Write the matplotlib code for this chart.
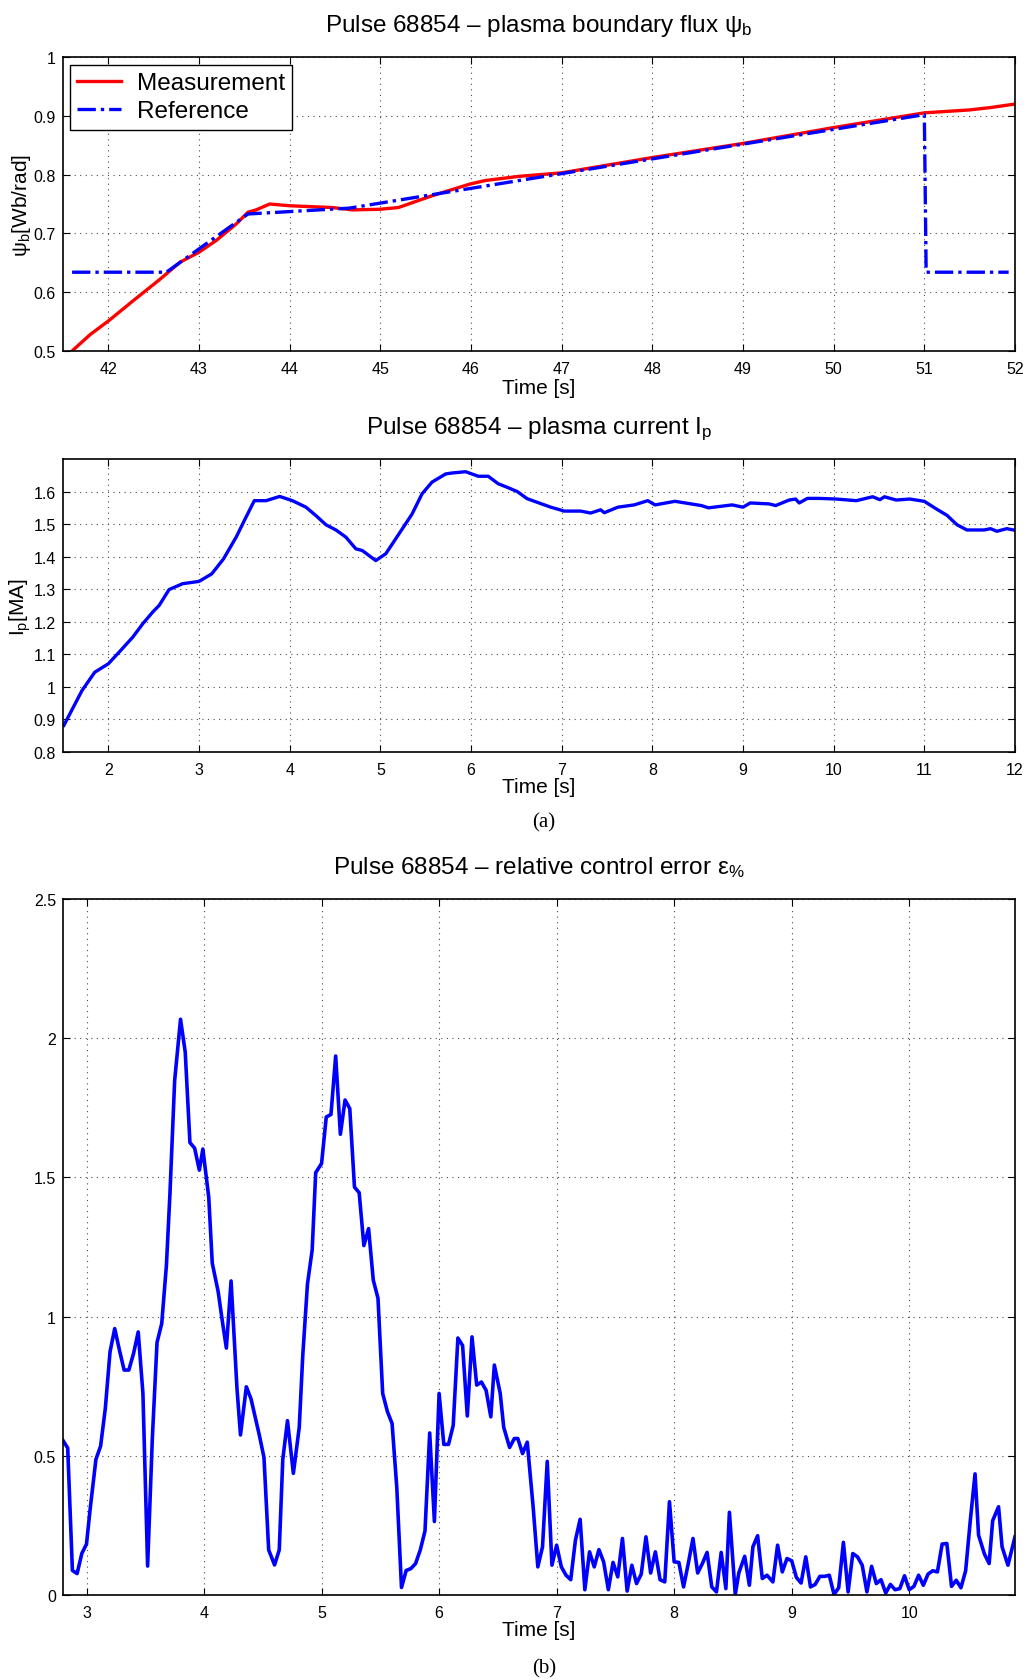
import matplotlib
matplotlib.use('Agg')
import matplotlib.pyplot as plt
from matplotlib.ticker import FuncFormatter

plt.rcParams['font.family'] = ['Liberation Sans', 'DejaVu Sans']
plt.rcParams['mathtext.fontset'] = 'custom'
plt.rcParams['mathtext.rm'] = 'Liberation Sans'
plt.rcParams['mathtext.it'] = 'Liberation Sans'

# --- boundary flux, pulse 68854 ---
flux_time = [41.6, 41.8, 42.0, 42.27, 42.57, 42.79, 43.0, 43.19, 43.41, 43.54, 43.63, 43.78,
             44.0, 44.47, 44.69, 44.99, 45.2, 45.57, 45.99, 46.16, 46.53, 47.0, 48.0, 49.0,
             50.0, 51.0, 51.5, 51.73, 52.0]
flux_meas = [0.5, 0.528, 0.551, 0.585, 0.622, 0.651, 0.668, 0.688, 0.716, 0.736, 0.740, 0.750,
             0.747, 0.744, 0.740, 0.741, 0.744, 0.764, 0.784, 0.790, 0.797, 0.803, 0.829, 0.853,
             0.880, 0.905, 0.910, 0.914, 0.920]
ref_time = [41.6, 42.64, 43.54, 44.66, 51.0, 51.02, 51.93]
ref_flux = [0.634, 0.634, 0.733, 0.743, 0.902, 0.634, 0.634]

# --- plasma current ---
ip_time = [1.51, 1.71, 1.85, 2.0, 2.13, 2.27, 2.38, 2.49, 2.56, 2.67, 2.82, 3.0, 3.14, 3.27,
           3.41, 3.5, 3.61, 3.74, 3.89, 4.03, 4.18, 4.29, 4.40, 4.51, 4.62, 4.73, 4.80, 4.95,
           5.06, 5.17, 5.35, 5.46, 5.57, 5.72, 5.79, 5.94, 6.08, 6.19, 6.30,
           6.40, 6.51, 6.62, 6.73, 6.88, 7.03, 7.21, 7.32, 7.43, 7.47, 7.62, 7.80, 7.95, 8.03,
           8.25, 8.54, 8.62, 8.88, 9.0, 9.08, 9.29, 9.36, 9.51, 9.58, 9.62, 9.71, 9.84, 10.03,
           10.25, 10.43, 10.51, 10.56, 10.69, 10.84, 11.0, 11.13, 11.25, 11.36, 11.47, 11.66,
           11.73, 11.8, 11.91, 12.0]
ip_ma = [0.882, 0.989, 1.045, 1.071, 1.110, 1.153, 1.194, 1.230, 1.250, 1.299, 1.317, 1.324,
         1.347, 1.393, 1.460, 1.511, 1.572, 1.572, 1.585, 1.572, 1.552, 1.526, 1.498, 1.482,
         1.460, 1.424, 1.419, 1.388, 1.409, 1.455, 1.531, 1.593, 1.629, 1.654, 1.657, 1.661,
         1.647, 1.647, 1.624,
         1.613, 1.600, 1.578, 1.567, 1.552, 1.540, 1.540, 1.534, 1.544, 1.535, 1.552, 1.559,
         1.572, 1.559, 1.570, 1.557, 1.550, 1.559, 1.552, 1.565, 1.562, 1.557, 1.574, 1.577,
         1.565, 1.579, 1.579, 1.577, 1.572, 1.584, 1.575, 1.584, 1.574, 1.577, 1.570, 1.547,
         1.527, 1.498, 1.482, 1.482, 1.486, 1.478, 1.486, 1.481]

# --- relative control error ---
err_time = [2.80, 2.84, 2.88, 2.92, 2.96, 3.00, 3.03, 3.08, 3.12, 3.16, 3.20, 3.24, 3.28, 3.32,
            3.36, 3.40, 3.44, 3.48, 3.52, 3.56, 3.60, 3.64, 3.68, 3.71, 3.75, 3.80, 3.84, 3.88,
            3.92, 3.96, 3.99, 4.04, 4.07, 4.12, 4.16, 4.19, 4.23, 4.28, 4.31, 4.36, 4.40, 4.44,
            4.47, 4.51, 4.55, 4.60, 4.64, 4.67, 4.71, 4.76,
            4.81, 4.84, 4.88, 4.92, 4.95, 5.00, 5.04, 5.08, 5.12, 5.16, 5.20, 5.24, 5.28, 5.32,
            5.36, 5.40, 5.44, 5.48, 5.52, 5.56, 5.60, 5.64, 5.68, 5.72, 5.76, 5.80, 5.84, 5.88,
            5.92, 5.96, 6.00, 6.04, 6.08, 6.12, 6.16, 6.20, 6.24, 6.28, 6.32, 6.36, 6.40, 6.44,
            6.47, 6.52, 6.55, 6.60, 6.64, 6.67, 6.71, 6.75,
            6.80, 6.84, 6.88, 6.92, 6.96, 7.00, 7.04, 7.08, 7.12, 7.16, 7.20, 7.24, 7.28, 7.32,
            7.36, 7.40, 7.44, 7.48, 7.52, 7.56, 7.60, 7.64, 7.68, 7.72, 7.76, 7.80, 7.84, 7.88,
            7.92, 7.96, 8.00, 8.04, 8.08, 8.12, 8.16, 8.20, 8.24, 8.28, 8.32, 8.36, 8.40, 8.44,
            8.47, 8.52, 8.55, 8.60, 8.64, 8.67, 8.71, 8.75, 8.79,
            8.84, 8.88, 8.92, 8.96, 9.00, 9.04, 9.08, 9.12, 9.16, 9.20, 9.24, 9.28, 9.32, 9.36,
            9.40, 9.44, 9.48, 9.52, 9.56, 9.60, 9.64, 9.68, 9.72, 9.76, 9.80, 9.84, 9.88, 9.92,
            9.96, 10.00, 10.04, 10.08, 10.12, 10.16, 10.20, 10.24, 10.28, 10.32, 10.36, 10.40,
            10.44, 10.48, 10.52, 10.56, 10.59, 10.64, 10.68, 10.71, 10.76, 10.79, 10.84, 10.90]
err_pct = [0.555, 0.528, 0.088, 0.077, 0.149, 0.183, 0.305, 0.487, 0.535, 0.670, 0.873, 0.957,
           0.880, 0.808, 0.808, 0.867, 0.945, 0.724, 0.104, 0.562, 0.907, 0.975, 1.185, 1.442,
           1.848, 2.068, 1.950, 1.625, 1.605, 1.526, 1.602, 1.429, 1.192, 1.090, 0.971, 0.887,
           1.128, 0.744, 0.575, 0.748, 0.704, 0.630, 0.575, 0.494, 0.162, 0.108, 0.162, 0.487,
           0.626, 0.437,
           0.602, 0.860, 1.117, 1.239, 1.517, 1.550, 1.717, 1.726, 1.936, 1.655, 1.778, 1.747,
           1.465, 1.445, 1.255, 1.316, 1.131, 1.066, 0.724, 0.659, 0.616, 0.386, 0.027, 0.088,
           0.095, 0.113, 0.162, 0.230, 0.582, 0.264, 0.724, 0.541, 0.541, 0.609, 0.923, 0.896,
           0.643, 0.927, 0.754, 0.765, 0.735, 0.640, 0.826, 0.724, 0.602, 0.530, 0.562, 0.562,
           0.508, 0.549,
           0.317, 0.101, 0.173, 0.480, 0.107, 0.179, 0.101, 0.071, 0.055, 0.197, 0.272, 0.019,
           0.155, 0.101, 0.163, 0.119, 0.019, 0.117, 0.065, 0.203, 0.014, 0.107, 0.041, 0.075,
           0.209, 0.079, 0.155, 0.055, 0.047, 0.335, 0.119, 0.117, 0.029, 0.113, 0.203, 0.079,
           0.113, 0.153, 0.029, 0.011, 0.153, 0.023, 0.297, 0.002, 0.079, 0.139, 0.035, 0.173,
           0.213, 0.059, 0.071,
           0.047, 0.179, 0.083, 0.131, 0.123, 0.063, 0.043, 0.137, 0.029, 0.038, 0.067, 0.067,
           0.071, 0.002, 0.026, 0.189, 0.011, 0.149, 0.137, 0.107, 0.011, 0.103, 0.041, 0.055,
           0.007, 0.038, 0.019, 0.023, 0.069, 0.019, 0.031, 0.071, 0.035, 0.075, 0.087, 0.083,
           0.183, 0.185, 0.031, 0.053, 0.026, 0.087, 0.269, 0.435, 0.215, 0.147, 0.113, 0.267,
           0.317, 0.173, 0.107, 0.209]

flux_ticks = list(range(42, 53))
ip_ticks = list(range(2, 13))
err_ticks = list(range(3, 11))

W, H = 1027, 1681
fig = plt.figure(figsize=(W / 100, H / 100), dpi=100)
left = 63 / W
width = (1015 - 63) / W
ax1 = fig.add_axes([left, 1 - 352 / H, width, 294 / H])
ax2 = fig.add_axes([left, 1 - 753 / H, width, 293 / H])
ax3 = fig.add_axes([left, 1 - 1596 / H, width, 696 / H])

gfmt = FuncFormatter(lambda v, p: '%g' % round(v, 3))


def style(ax):
    ax.grid(True, linestyle=(0, (1, 4)), color='0.3', linewidth=0.8)
    ax.tick_params(direction='in', top=True, right=True, length=5, width=0.8,
                   labelsize=11.5, pad=5)
    ax.tick_params(axis='x', pad=7)
    for s in ax.spines.values():
        s.set_linewidth(1.2)
    ax.yaxis.set_major_formatter(gfmt)


# top panel: flux
ax1.plot(flux_time, flux_meas, color='red', lw=2.4, label='Measurement')
ax1.plot(ref_time, ref_flux, color='blue', lw=2.4, linestyle=(0, (5.5, 1.5, 1, 1.5)),
         label='Reference')
ax1.set_xlim(41.5, 52)
ax1.set_ylim(0.5, 1.0)
ax1.set_xticks(flux_ticks)
ax1.set_yticks([0.5, 0.6, 0.7, 0.8, 0.9, 1.0])
style(ax1)
ax1.set_title('Pulse 68854 – plasma boundary flux ψ$_\\mathregular{b}$', fontsize=17.5, pad=19)
ax1.set_xlabel('Time [s]', fontsize=15)
ax1.xaxis.set_label_coords(0.5, -0.092)
ax1.set_ylabel('ψ$_\\mathregular{b}$[Wb/rad]', fontsize=15)
ax1.yaxis.set_label_coords(-0.032, 0.5)
leg = ax1.legend(loc='upper left', bbox_to_anchor=(7 / 952, 1 - 8 / 294), borderaxespad=0,
                 fontsize=17.5, fancybox=False, edgecolor='k', framealpha=1,
                 handlelength=1.8, handletextpad=0.65, borderpad=0.3, labelspacing=0.25)
leg.get_frame().set_linewidth(1.0)

# middle panel: plasma current
ax2.plot(ip_time, ip_ma, color='blue', lw=2.4)
ax2.set_xlim(1.5, 12)
ax2.set_ylim(0.8, 1.7)
ax2.set_xticks(ip_ticks)
ax2.set_yticks([0.8, 0.9, 1.0, 1.1, 1.2, 1.3, 1.4, 1.5, 1.6])
style(ax2)
ax2.set_title('Pulse 68854 – plasma current I$_\\mathregular{p}$', fontsize=17.5, pad=19)
ax2.set_xlabel('Time [s]', fontsize=15)
ax2.xaxis.set_label_coords(0.5, -0.085)
ax2.set_ylabel('I$_\\mathregular{p}$[MA]', fontsize=15)
ax2.yaxis.set_label_coords(-0.032, 0.5)

# bottom panel: relative error
ax3.plot(err_time, err_pct, color='blue', lw=2.6)
ax3.set_xlim(2.8, 10.9)
ax3.set_ylim(0, 2.5)
ax3.set_xticks(err_ticks)
ax3.set_yticks([0, 0.5, 1.0, 1.5, 2.0, 2.5])
style(ax3)
ax3.set_title('Pulse 68854 – relative control error ε$_\\mathregular{\\%}$', fontsize=17.5, pad=19)
ax3.set_xlabel('Time [s]', fontsize=15)
ax3.xaxis.set_label_coords(0.5, -0.036)

fig.text(544 / W, 1 - 823 / H, '(a)', fontsize=15, family='Liberation Serif',
         ha='center', va='center')
fig.text(544 / W, 1 - 1669 / H, '(b)', fontsize=15, family='Liberation Serif',
         ha='center', va='center')

fig.savefig('out.png', dpi=100)
